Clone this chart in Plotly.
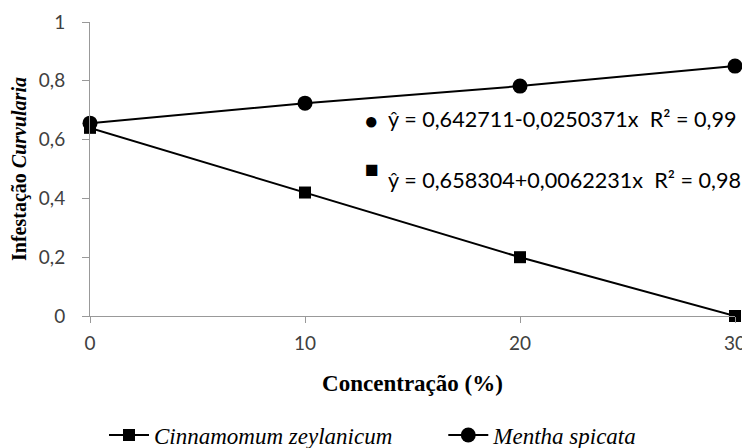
import plotly.graph_objects as go

concentracao = [0, 10, 20, 30]
cinnamomum = [0.64, 0.42, 0.20, 0.0]
mentha = [0.656, 0.724, 0.782, 0.85]
y_ticks = [0, 0.2, 0.4, 0.6, 0.8, 1]
y_tick_labels = ["0", "0,2", "0,4", "0,6", "0,8", "1"]
x_ticks = [0, 10, 20, 30]

# page body has an 8px margin, so the figure is drawn offset by (8, 8)
W, H = 742, 440

fig = go.Figure()
fig.add_trace(go.Scatter(
    x=concentracao, y=cinnamomum, mode="lines+markers",
    name="<i>Cinnamomum zeylanicum</i>" + "\u00a0" * 8,
    line=dict(color="black", width=2),
    marker=dict(symbol="square", size=12, color="black"),
    cliponaxis=False,
))
fig.add_trace(go.Scatter(
    x=concentracao, y=mentha, mode="lines+markers",
    name="<i>Mentha spicata</i>",
    line=dict(color="black", width=2),
    marker=dict(symbol="circle", size=15, color="black"),
    cliponaxis=False,
))

tick_font = dict(family="Lato, Open Sans, sans-serif", size=19, color="#404040")

fig.update_layout(
    width=W, height=H,
    margin=dict(l=82, r=15, t=14, b=132, autoexpand=False),
    plot_bgcolor="white", paper_bgcolor="white",
    showlegend=True,
    legend=dict(orientation="h", xref="container", yref="container",
                x=(104 - 8) / W, xanchor="left",
                y=1 - (435 - 8) / H, yanchor="middle",
                font=dict(family="Liberation Serif", size=23, color="black"),
                itemwidth=40),
    xaxis=dict(range=[0, 30], tickvals=x_ticks, ticks="outside", ticklen=6,
               tickcolor="#999999", showline=True, linecolor="#999999", linewidth=1,
               showgrid=False, zeroline=False, tickfont=tick_font, automargin=False,
               ticklabelstandoff=4,
               title=dict(text="<b>Concentração (%)</b>",
                          font=dict(family="Liberation Serif", size=23, color="black"),
                          standoff=22)),
    yaxis=dict(range=[0, 1], tickvals=y_ticks, ticktext=y_tick_labels, ticks="outside",
               ticklen=7, tickcolor="#999999", showline=True, linecolor="#999999",
               linewidth=1, showgrid=False, zeroline=False, tickfont=tick_font,
               automargin=False, ticklabelstandoff=13,
               title=dict(text="<b>Infestação <i>Curvularia</i></b>",
                          font=dict(family="Liberation Serif", size=20, color="black"),
                          standoff=14)),
)

def px_x(p):
    return (p - 90) / 645

def px_y(p):
    return (316 - p) / 294

eq_font = dict(family="Lato, Open Sans, sans-serif", size=21.6, color="black")
fig.add_annotation(xref="paper", yref="paper", x=px_x(371.5), y=px_y(119),
                   text="●", showarrow=False, xanchor="center", yanchor="middle",
                   font=dict(size=24, color="black"))
fig.add_annotation(xref="paper", yref="paper", x=px_x(386), y=px_y(119),
                   text="ŷ = 0,642711-0,0250371x\u00a0\u00a0R² = 0,99", showarrow=False,
                   xanchor="left", yanchor="middle", font=eq_font)
fig.add_annotation(xref="paper", yref="paper", x=px_x(372), y=px_y(167.5),
                   text="■", showarrow=False, xanchor="center", yanchor="middle",
                   font=dict(size=23, color="black"))
fig.add_annotation(xref="paper", yref="paper", x=px_x(386), y=px_y(180),
                   text="ŷ = 0,658304+0,0062231x\u00a0\u00a0R² = 0,98", showarrow=False,
                   xanchor="left", yanchor="middle", font=eq_font)

fig.write_html("out.html")
